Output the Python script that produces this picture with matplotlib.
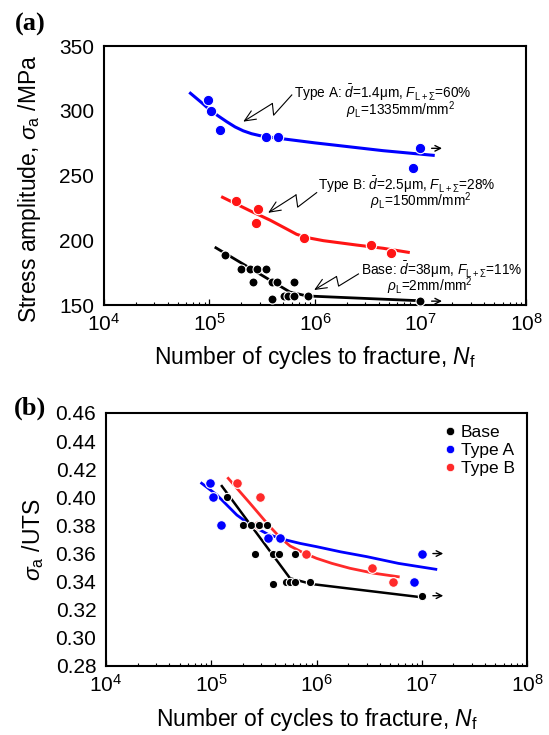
import matplotlib
matplotlib.use("Agg")
from matplotlib import pyplot as plt
from matplotlib.lines import Line2D
from matplotlib.ticker import LogLocator, LogFormatterMathtext, FormatStrFormatter, MultipleLocator, NullFormatter

plt.rcParams['font.family'] = ['Liberation Sans', 'DejaVu Sans']
plt.rcParams['mathtext.fontset'] = 'custom'
plt.rcParams['mathtext.rm'] = 'Liberation Sans'
plt.rcParams['mathtext.it'] = 'Liberation Sans:italic'
plt.rcParams['mathtext.bf'] = 'Liberation Sans:bold'

# measured points (cycles to fracture)
base_n = [1.4e5, 2.0e5, 2.4e5, 2.85e5, 3.4e5, 2.6e5, 3.9e5, 4.4e5, 6.3e5, 3.9e5, 5.1e5, 5.6e5, 6.3e5, 8.6e5, 1.0e7]
base_sa = [189, 178, 178, 178, 178, 168, 168, 168, 168, 155, 157, 157, 157, 157, 153]
base_ratio = [0.40, 0.38, 0.38, 0.38, 0.38, 0.36, 0.36, 0.36, 0.36, 0.338, 0.34, 0.34, 0.34, 0.34, 0.33]

typea_n = [9.7e4, 1.03e5, 1.25e5, 3.45e5, 4.5e5, 1.0e7, 8.5e6]
typea_sa = [308, 300, 285, 280, 280, 271, 256]
typea_ratio = [0.41, 0.40, 0.38, 0.371, 0.371, 0.36, 0.34]

typeb_n = [1.77e5, 2.9e5, 2.75e5, 7.9e5, 3.4e6, 5.3e6]
typeb_sa = [230, 224, 213, 202, 196, 190]
typeb_ratio = [0.41, 0.40, 0.38, 0.36, 0.35, 0.34]

# fitted curves
fit_a_n = [6.6e4, 8.5e4, 1.01e5, 1.2e5, 1.46e5, 1.75e5, 2.09e5, 2.5e5, 3.0e5, 4.0e5, 5.0e5,
           1.0e6, 1.49e6, 4.4e6, 1.32e7]
fit_a_sa = [313.5, 306.0, 300.6, 296.2, 291.5, 287.5, 284.5, 282.3, 280.8, 279.3, 278.3,
            275.2, 273.6, 269.2, 265.6]
fit_b_n = [1.33e5, 2.42e5, 3.74e5, 5.2e5, 6.7e5, 8.5e5, 1.2e6, 2.49e6, 4.44e6, 7.66e6]
fit_b_sa = [233.2, 222.8, 215.6, 209.4, 204.6, 202.0, 199.7, 196.3, 193.8, 190.7]
fit_base_n = [1.15e5, 5.8e5, 8.4e5, 9.9e6]
fit_base_sa = [194.2, 160.0, 157.0, 153.3]

fit_a_n2 = [8.1e4, 1.13e5, 1.75e5, 2.2e5, 2.7e5, 3.5e5, 4.84e5, 7.0e5, 1.0e6, 1.7e6, 3.0e6, 6.0e6, 1.36e7]
fit_a_r = [0.410, 0.4017, 0.3874, 0.3820, 0.3780, 0.3735, 0.3701, 0.3672, 0.3649, 0.3612, 0.3578,
           0.3530, 0.3488]
fit_b_n2 = [1.45e5, 2.33e5, 3.61e5, 4.5e5, 5.6e5, 7.5e5, 1.0e6, 1.4e6, 2.08e6, 3.5e6, 5.98e6]
fit_b_r = [0.4135, 0.3958, 0.3791, 0.3715, 0.3654, 0.3605, 0.3566, 0.3530, 0.3495, 0.3460, 0.3435]
fit_base_n2 = [1.26e5, 5.6e5, 9.0e5, 1.07e7]
fit_base_r = [0.408, 0.3424, 0.3383, 0.3286]

BLUE = '#0000ff'
RED = '#ff1414'
RED_B = '#ff2a2a'

fig = plt.figure(figsize=(5.49, 7.35), dpi=100)
ax1 = fig.add_axes([0.1894, 0.585, 0.7687, 0.3524])
ax2 = fig.add_axes([0.1931, 0.0939, 0.7669, 0.3442])


def style(ax):
    ax.set_xscale('log')
    ax.set_xlim(1e4, 1e8)
    ax.xaxis.set_major_locator(LogLocator(base=10, numticks=10))
    ax.xaxis.set_major_formatter(LogFormatterMathtext())
    ax.xaxis.set_minor_locator(LogLocator(base=10, subs=range(2, 10), numticks=20))
    ax.xaxis.set_minor_formatter(NullFormatter())
    ax.tick_params(axis='x', which='major', direction='in', length=4, width=0.9, labelsize=15, pad=6)
    ax.tick_params(axis='x', which='minor', direction='in', length=2.2, width=0.8)
    ax.tick_params(axis='y', which='both', length=0, labelsize=15, pad=7)
    for s in ax.spines.values():
        s.set_linewidth(1.5)


# ---- (a)
ax1.plot(fit_a_n, fit_a_sa, color=BLUE, lw=2.2, zorder=2)
ax1.plot(fit_b_n, fit_b_sa, color=RED, lw=2.2, zorder=2)
ax1.plot(fit_base_n, fit_base_sa, color='k', lw=2.0, zorder=2)
ax1.plot(typea_n, typea_sa, 'o', color=BLUE, ms=7.5, mec='white', mew=0.8, zorder=3)
ax1.plot(typeb_n, typeb_sa, 'o', color=RED, ms=7.5, mec='white', mew=0.8, zorder=3)
ax1.plot(base_n, base_sa, 'o', color='k', ms=6.5, mec='white', mew=0.8, zorder=4)
ax1.annotate('', xy=(1.7e7, typea_sa[5]), xytext=(1.2e7, typea_sa[5]),
             arrowprops=dict(arrowstyle='->', lw=1.0, color='k'))
ax1.annotate('', xy=(1.7e7, base_sa[-1]), xytext=(1.2e7, base_sa[-1]),
             arrowprops=dict(arrowstyle='->', lw=1.0, color='k'))

style(ax1)
ax1.set_ylim(150, 350)
ax1.yaxis.set_major_locator(MultipleLocator(50))
ax1.set_ylabel(r'Stress amplitude, $\sigma_{\rm a}$ /MPa', fontsize=16.5)
ax1.yaxis.set_label_coords(-0.145, 0.45)
ax1.set_xlabel(r'Number of cycles to fracture, $N_{\rm f}$', fontsize=16.5)
ax1.xaxis.set_label_coords(0.5, -0.152)

# lightning arrows (axes fraction): start, zig, zag, tip
bolts = [
    [(0.445, 0.811), (0.402, 0.733), (0.399, 0.778), (0.330, 0.708)],
    [(0.504, 0.434), (0.459, 0.378), (0.455, 0.425), (0.389, 0.356)],
    [(0.603, 0.120), (0.556, 0.073), (0.551, 0.110), (0.498, 0.058)],
]
for b in bolts:
    ax1.plot([b[0][0], b[1][0], b[2][0]], [b[0][1], b[1][1], b[2][1]],
             color='k', lw=0.8, transform=ax1.transAxes, zorder=5)
    ax1.annotate('', xy=b[3], xytext=b[2], xycoords='axes fraction', textcoords='axes fraction',
                 arrowprops=dict(arrowstyle='->,head_length=0.8,head_width=0.35', lw=0.8, color='k',
                                 shrinkA=0, shrinkB=0))

notes = [
    (0.450, 0.785, 'Type A: $\\bar{d}$=1.4μm, $F_{\\rm L+\\Sigma}$=60%\n'
                   '              $\\rho_{\\rm L}$=1335mm/mm$^2$'),
    (0.508, 0.432, 'Type B: $\\bar{d}$=2.5μm, $F_{\\rm L+\\Sigma}$=28%\n'
                   '              $\\rho_{\\rm L}$=150mm/mm$^2$'),
    (0.608, 0.105, 'Base: $\\bar{d}$=38μm, $F_{\\rm L+\\Sigma}$=11%\n'
                   '       $\\rho_{\\rm L}$=2mm/mm$^2$'),
]
for x, y, t in notes:
    ax1.text(x, y, t, transform=ax1.transAxes, fontsize=9.8, ha='left', va='center',
             multialignment='left', linespacing=0.72)

# ---- (b)
ax2.plot(fit_b_n2, fit_b_r, color=RED_B, lw=2.0, zorder=2)
ax2.plot(fit_a_n2, fit_a_r, color=BLUE, lw=2.0, zorder=2)
ax2.plot(fit_base_n2, fit_base_r, color='k', lw=1.8, zorder=2)
ax2.plot(typeb_n, typeb_ratio, 'o', color=RED_B, ms=7, mec='white', mew=0.8, zorder=3)
ax2.plot(typea_n, typea_ratio, 'o', color=BLUE, ms=7, mec='white', mew=0.8, zorder=3)
ax2.plot(base_n, base_ratio, 'o', color='k', ms=6, mec='white', mew=0.8, zorder=4)
ax2.annotate('', xy=(1.7e7, typea_ratio[5]), xytext=(1.2e7, typea_ratio[5]),
             arrowprops=dict(arrowstyle='->', lw=1.0, color='k'))
ax2.annotate('', xy=(1.7e7, base_ratio[-1]), xytext=(1.2e7, base_ratio[-1]),
             arrowprops=dict(arrowstyle='->', lw=1.0, color='k'))

style(ax2)
ax2.set_ylim(0.28, 0.46)
ax2.yaxis.set_major_locator(MultipleLocator(0.02))
ax2.yaxis.set_major_formatter(FormatStrFormatter('%.2f'))
ax2.set_ylabel(r'$\sigma_{\rm a}$ /UTS', fontsize=16.5)
ax2.yaxis.set_label_coords(-0.142, 0.498)
ax2.set_xlabel(r'Number of cycles to fracture, $N_{\rm f}$', fontsize=16.5)
ax2.xaxis.set_label_coords(0.5, -0.158)

handles = [Line2D([], [], ls='', marker='o', color='k', ms=6, mec='white', mew=0.5),
           Line2D([], [], ls='', marker='o', color=BLUE, ms=6, mec='white', mew=0.5),
           Line2D([], [], ls='', marker='o', color=RED_B, ms=6, mec='white', mew=0.5)]
ax2.legend(handles, ['Base', 'Type A', 'Type B'], loc='upper right', frameon=False,
           fontsize=12.5, handlelength=0.6, handletextpad=0.3, labelspacing=0.15,
           borderaxespad=0.3)

fig.text(0.027, 0.983, '(a)', fontsize=19, fontweight='bold', family='Liberation Serif', va='top')
fig.text(0.025, 0.460, '(b)', fontsize=19, fontweight='bold', family='Liberation Serif', va='top')

fig.savefig('out.png', dpi=100)
